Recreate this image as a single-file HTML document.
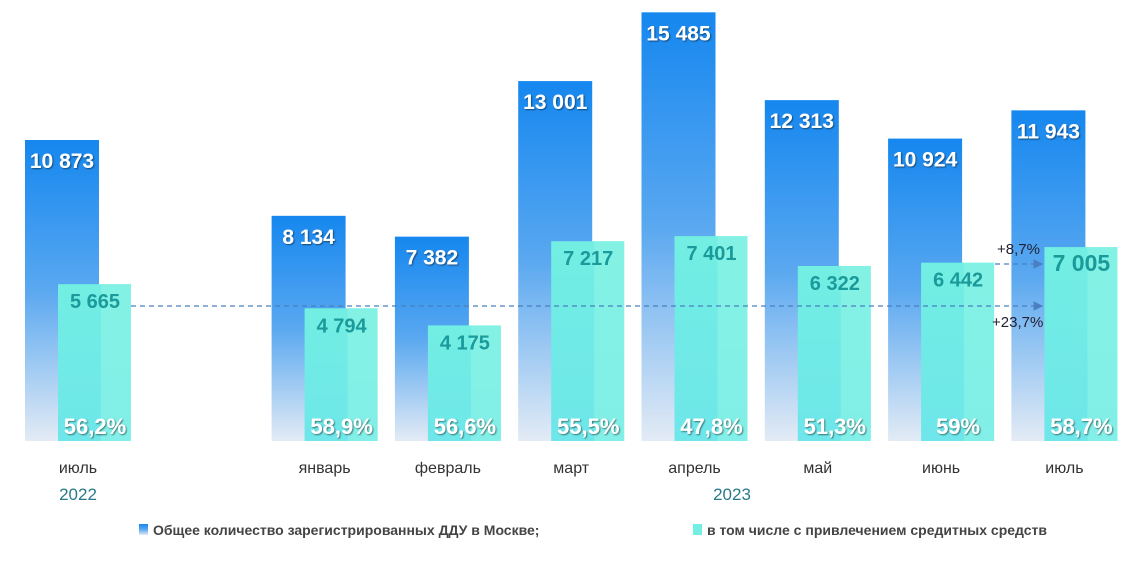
<!DOCTYPE html>
<html><head><meta charset="utf-8"><style>
body{margin:0;width:1146px;height:560px;background:#fff;overflow:hidden;font-family:"Liberation Sans",sans-serif}
svg text{font-family:"Liberation Sans",sans-serif}
</style></head><body>
<svg width="1146" height="560">
<defs>
<linearGradient id="gd" x1="0" y1="0" x2="0" y2="1"><stop offset="0" stop-color="#1587ef"/><stop offset="0.5" stop-color="#5aa8f0"/><stop offset="1" stop-color="#e3ebf5"/></linearGradient>
<linearGradient id="gt" x1="0" y1="0" x2="0" y2="1"><stop offset="0" stop-color="#72eee2"/><stop offset="1" stop-color="#6ee6ea"/></linearGradient>
<marker id="ar" markerWidth="8" markerHeight="8" refX="7" refY="4" orient="auto"><path d="M0,0 L8,4 L0,8 z" fill="#4a7fc0"/></marker>
<filter id="sh"><feDropShadow dx="1" dy="1" stdDeviation="0.8" flood-color="#000" flood-opacity="0.5"/></filter>
</defs>
<g id="bars"></g>
<line x1="131" y1="306" x2="1042" y2="306" stroke="#4a7fc0" stroke-width="1.2" stroke-dasharray="5,4" marker-end="url(#ar)"/>
<line x1="995" y1="264" x2="1042" y2="264" stroke="#4a7fc0" stroke-width="1.2" stroke-dasharray="5,4" marker-end="url(#ar)"/>
<text x="997" y="254" font-size="15" fill="#223">+8,7%</text>
<text x="992" y="327" font-size="15" fill="#223">+23,7%</text>
<text x="78" y="500" font-size="17" fill="#2a7a8a" text-anchor="middle">2022</text>
<text x="732" y="500" font-size="17" fill="#2a7a8a" text-anchor="middle">2023</text>
<g>
<rect x="139" y="524" width="9" height="11" fill="url(#gd)"/>
<text x="153" y="535" font-size="14" font-weight="bold" fill="#444">Общее количество зарегистрированных ДДУ в Москве;</text>
<rect x="693" y="524" width="9" height="11" fill="#72eee2"/>
<text x="707" y="535" font-size="14" font-weight="bold" fill="#444">в том числе с привлечением средитных средств</text>
</g>
</svg>
<script>
const months=["июль","январь","февраль","март","апрель","май","июнь","июль"];
const slots=[0,2,3,4,5,6,7,8];
const totals=[10873,8134,7382,13001,15485,12313,10924,11943];
const credit=[5665,4794,4175,7217,7401,6322,6442,7005];
const shares=["56,2%","58,9%","56,6%","55,5%","47,8%","51,3%","59%","58,7%"];
const NS="http://www.w3.org/2000/svg";
const base=441, k=301/10873;
const xS=i=>25+i*123.3;
const y=v=>base-v*k;
const fmt=v=>String(v).replace(/\B(?=(\d{3})+(?!\d))/g," ");
const g=document.getElementById("bars");
function mk(t,a){const e=document.createElementNS(NS,t);for(const n in a)e.setAttribute(n,a[n]);g.appendChild(e);return e;}
totals.forEach((v,i)=>{
 const x=xS(slots[i]);
 const r=mk("rect",{x:x,y:y(v),width:74,height:base-y(v),fill:"url(#gd)"});
 
 
 const c=credit[i];
 const r2=mk("rect",{x:x+33,y:y(c),width:73,height:base-y(c),fill:"url(#gt)"});
 
 
 const r3=mk("rect",{x:x+76,y:y(c),width:30,height:base-y(c),fill:"#8ff5e6",opacity:"0.6"});
 
 
 const t1=mk("text",{x:x+37,y:y(v)+28,"font-size":"21","font-weight":"bold",fill:"#fff","text-anchor":"middle",filter:"url(#sh)"});
 t1.textContent=fmt(v);
 
 
 const t2=mk("text",{x:x+70,y:y(c)+24,"font-size":i==7?"23":"20","font-weight":"bold",fill:"#1a9a9a","text-anchor":"middle"});
 t2.textContent=fmt(c);
 
 
 const t3=mk("text",{x:x+70,y:434,"font-size":"22","font-weight":"bold",fill:"#fff","text-anchor":"middle",filter:"url(#sh)"});
 t3.textContent=shares[i];
 
 
 const t4=mk("text",{x:x+53,y:473,"font-size":"16",fill:"#333","text-anchor":"middle"});
 t4.textContent=months[i];
 
 
});
</script>
</body></html>
